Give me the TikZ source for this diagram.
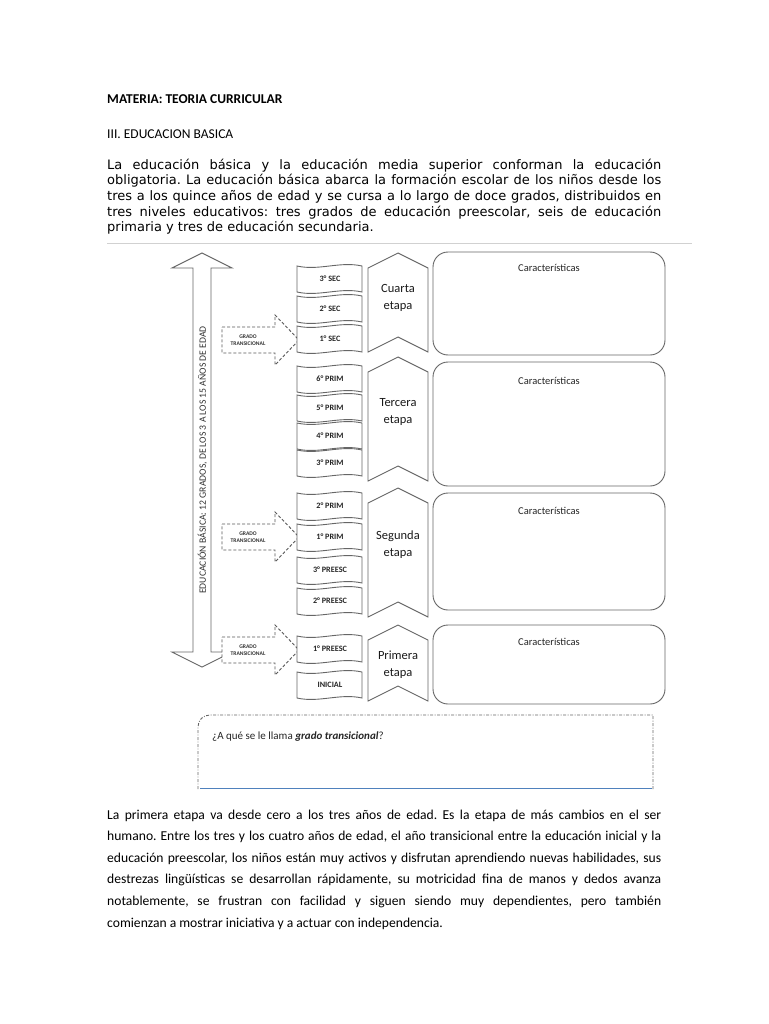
\documentclass[tikz,border=0pt]{standalone}
\usepackage{fontspec}
\setmainfont{Carlito}
\newfontfamily\parafont{DejaVu Sans}
\definecolor{lineblue}{RGB}{79,129,189}
\frenchspacing

\begin{document}
\begin{tikzpicture}[x=1pt,y=-1pt,
 outline/.style={draw=black!60,line width=0.9pt},
 band/.style={draw=black!60,line width=0.9pt,fill=white},
 grade/.style={font=\fontsize{8.2}{9}\selectfont\bfseries,text=black!85,inner sep=0},
 etapa/.style={font=\fontsize{12.5}{17}\selectfont,align=center,text=black!90,inner sep=0},
 carac/.style={draw=black!60,line width=0.9pt,rounded corners=15pt},
 cartext/.style={font=\fontsize{10.5}{12}\selectfont,text=black!85,inner sep=0},
 trans/.style={draw=black!65,dash pattern=on 3pt off 2pt,line width=0.9pt,fill=white},
 transtext/.style={font=\fontsize{5.6}{6.8}\selectfont\bfseries,align=center,text=black!80,inner sep=0},
 heading/.style={anchor=base west,inner sep=0,font=\fontsize{13.5}{16}\selectfont}]
\useasboundingbox[fill=white] (0,0) rectangle (768,1024);
% page text
\node[heading,font=\fontsize{13.5}{16}\selectfont\bfseries] (materia) at (107,103.5) {MATERIA: TEORIA CURRICULAR};
\node[heading] (unidad) at (107,138.5) {III. EDUCACION BASICA};
\node[anchor=base west,inner sep=0,text width=554pt,align=justify,font=\parafont\fontsize{13}{15.6}\selectfont] (intro) at (107,169.3)
 {La educación básica y la educación media superior conforman la educación\linebreak
 obligatoria. La educación básica abarca la formación escolar de los niños desde los\linebreak
 tres a los quince años de edad y se cursa a lo largo de doce grados, distribuidos en\linebreak
 tres niveles educativos: tres grados de educación preescolar, seis de educación\linebreak
 primaria y tres de educación secundaria.};
\draw[black!18,line width=1.4pt] (107,243.5) -- (692,243.5);
% main double arrow
\draw[outline] (202,253) -- (232,268) -- (211,268) -- (211,652) -- (232,652) -- (202,667)
 -- (172,652) -- (193,652) -- (193,268) -- (172,268) -- cycle;
\node[rotate=90,inner sep=0,font=\fontsize{9.7}{11}\selectfont,text=black!80] (eje) at (202.5,460)
 {EDUCACIÓN BÁSICA: 12 GRADOS, DE LOS 3 A LOS 15 AÑOS DE EDAD};
% grado transicional arrows
\foreach \yc [count=\i] in {340,537,650}{
 \draw[trans] (222,\yc-13) -- (275,\yc-13) -- (275,\yc-25) -- (299,\yc) -- (275,\yc+25)
  -- (275,\yc+13) -- (222,\yc+13) -- cycle;
 \node[transtext] (trans\i) at (248,\yc) {GRADO\\TRANSICIONAL};
}
% grade banners
\foreach \lbl/\yc [count=\i] in {3° SEC/279,2° SEC/309,1° SEC/339,6° PRIM/379,5° PRIM/408,
 4° PRIM/436,3° PRIM/463,2° PRIM/506,1° PRIM/537,3° PREESC/570,2° PREESC/601,1° PREESC/649,INICIAL/685}{
 \draw[band] (297,\yc-13) .. controls (319,\yc-8) and (340,\yc-18) .. (362,\yc-13)
  -- (362,\yc+13) .. controls (340,\yc+8) and (319,\yc+18) .. (297,\yc+13) -- cycle;
 \node[grade] (g\i) at (330,\yc) {\lbl};
}
% etapas
\foreach \nm/\pk/\bt/\ty/\txt in {cuarta/253/352/298/Cuarta,tercera/357/481/412/Tercera,
 segunda/488/617/545/Segunda,primera/625/701/664.5/Primera}{
 \draw[outline,fill=white] (398,\pk) -- (428,\pk+15) -- (428,\bt) -- (398,\bt-15) -- (368,\bt)
  -- (368,\pk+15) -- cycle;
 \node[etapa] (\nm) at (398,\ty) {\txt\\etapa};
}
% caracteristicas
\foreach \tp/\bt/\ty [count=\i] in {252/355/268,362/486/381,493/610/511,625/704/642}{
 \draw[carac] (433,\tp) rectangle (665,\bt);
 \node[cartext] (car\i) at (549,\ty) {Características};
}
% question box
\draw[black!60,line width=0.9pt,dash pattern=on 3pt off 1.6pt on 0.8pt off 1.6pt]
 (198,789) -- (198,727) .. controls (198,720) and (203,715) .. (210,715) -- (653,715) -- (653,789);
\draw[lineblue,line width=1pt] (200,788.5) -- (652,788.5);
\node[anchor=base west,inner sep=0,font=\fontsize{11}{13}\selectfont,text=black!85] (pregunta) at (212,739)
 {¿A qué se le llama \textbf{\textit{grado transicional}}?};
% closing paragraph
\node[anchor=base west,inner sep=0,text width=554pt,align=justify,font=\fontsize{13.6}{21.66}\selectfont] (cierre) at (107,819)
 {La primera etapa va desde cero a los tres años de edad. Es la etapa de más cambios en el ser\linebreak
 humano. Entre los tres y los cuatro años de edad, el año transicional entre la educación inicial y la\linebreak
 educación preescolar, los niños están muy activos y disfrutan aprendiendo nuevas habilidades, sus\linebreak
 destrezas lingüísticas se desarrollan rápidamente, su motricidad fina de manos y dedos avanza\linebreak
 notablemente, se frustran con facilidad y siguen siendo muy dependientes, pero también\linebreak
 comienzan a mostrar iniciativa y a actuar con independencia.};
\end{tikzpicture}
\end{document}
